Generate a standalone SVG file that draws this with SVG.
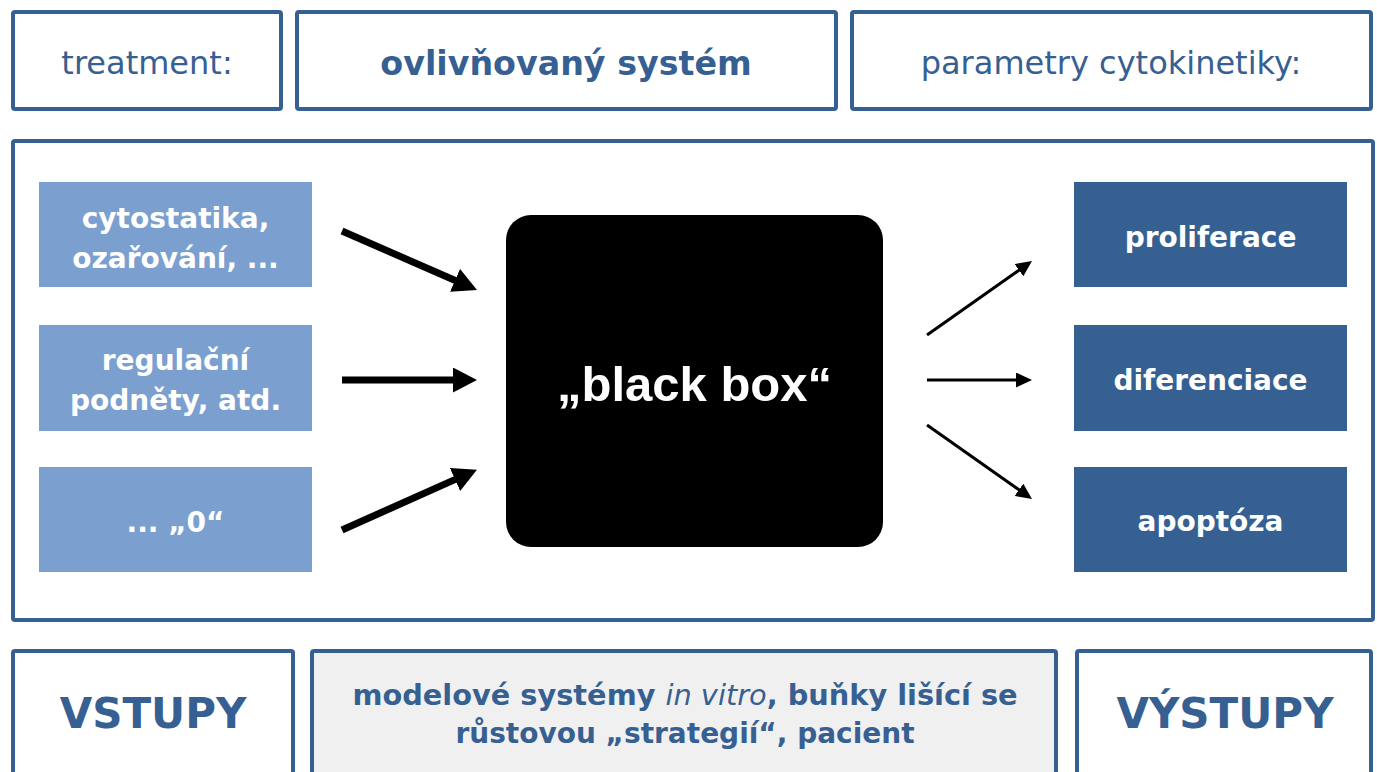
<svg xmlns="http://www.w3.org/2000/svg" width="1377" height="772" viewBox="0 0 1377 772">
<style>
.frame{fill:#ffffff;stroke:#376092;stroke-width:4}
.grey{fill:#f0f0f0;stroke:#376092;stroke-width:4}
.inbox{fill:#7ba0cf}
.outbox{fill:#366092}
.t{font-family:"DejaVu Sans",Verdana,sans-serif;text-anchor:middle}
.hdr{font-size:32px;fill:#376092}
.b{font-weight:bold}
.w{fill:#ffffff;font-size:28px;font-weight:bold}
.big{font-size:42px;font-weight:bold;fill:#376092}
.mid{font-size:28px;fill:#376092}
.thick{stroke:#000;stroke-width:7;fill:none;marker-end:url(#bigHead)}
.thin{stroke:#000;stroke-width:3;fill:none;marker-end:url(#smallHead)}
</style>
<defs>
<marker id="bigHead" markerUnits="userSpaceOnUse" markerWidth="24" markerHeight="25" refX="4" refY="12.5" orient="auto">
<path d="M0,0 L24,12.5 L0,25 z" fill="#000"/>
</marker>
<marker id="smallHead" markerUnits="userSpaceOnUse" markerWidth="16" markerHeight="15" refX="3" refY="7.5" orient="auto">
<path d="M0,0 L16,7.5 L0,15 z" fill="#000"/>
</marker>
</defs>
<rect width="1377" height="772" fill="#ffffff"/>

<g id="treatment">
<rect class="frame" x="13" y="12" width="268" height="97" rx="2"/>
<text class="t hdr" x="147" y="74">treatment:</text>
</g>
<g id="ovlivnovany">
<rect class="frame" x="297" y="12" width="539" height="97" rx="2"/>
<text class="t hdr b" x="566" y="75" style="font-size:33.3px">ovlivňovaný systém</text>
</g>
<g id="parametry">
<rect class="frame" x="852" y="12" width="519" height="97" rx="2"/>
<text class="t hdr" x="1111" y="74">parametry cytokinetiky:</text>
</g>

<g id="mainframe">
<rect class="frame" x="13" y="141" width="1360" height="479" rx="2"/>
</g>

<g id="in1">
<rect class="inbox" x="39" y="182" width="273" height="105"/>
<text class="t w" x="175.5" y="228">cytostatika,</text>
<text class="t w" x="175.5" y="268">ozařování, ...</text>
</g>
<g id="in2">
<rect class="inbox" x="39" y="325" width="273" height="106"/>
<text class="t w" x="175.5" y="370">regulační</text>
<text class="t w" x="175.5" y="410">podněty, atd.</text>
</g>
<g id="in3">
<rect class="inbox" x="39" y="467" width="273" height="105"/>
<text class="t w" x="175.5" y="532">... „0“</text>
</g>

<g id="blackbox">
<rect x="506" y="215" width="377" height="332" rx="25" fill="#000"/>
<text x="694.5" y="401" font-family="'Liberation Sans',Arial,sans-serif" font-size="49" font-weight="bold" fill="#fff" text-anchor="middle">„black box“</text>
</g>

<g id="out1">
<rect class="outbox" x="1074" y="182" width="273" height="105"/>
<text class="t w" x="1210.5" y="247">proliferace</text>
</g>
<g id="out2">
<rect class="outbox" x="1074" y="325" width="273" height="106"/>
<text class="t w" x="1210.5" y="390">diferenciace</text>
</g>
<g id="out3">
<rect class="outbox" x="1074" y="467" width="273" height="105"/>
<text class="t w" x="1210.5" y="531">apoptóza</text>
</g>

<g id="connectors">
<line class="thick" x1="342" y1="231" x2="458.7" y2="282"/>
<line class="thick" x1="342" y1="380" x2="457" y2="380"/>
<line class="thick" x1="342" y1="530" x2="458.7" y2="477.9"/>
<line class="thin" x1="927" y1="335" x2="1021.4" y2="268.5"/>
<line class="thin" x1="927" y1="380" x2="1019" y2="380"/>
<line class="thin" x1="927" y1="425" x2="1021.4" y2="491.5"/>
</g>

<g id="vstupy">
<rect class="frame" x="13" y="651" width="280" height="150" rx="2"/>
<text class="t big" x="153" y="728">VSTUPY</text>
</g>
<g id="modelove">
<rect class="grey" x="312" y="651" width="744" height="150" rx="2"/>
<text class="t mid" x="685" y="705" style="font-size:28.8px"><tspan class="b">modelové systémy </tspan><tspan font-style="italic">in vitro</tspan><tspan class="b">, buňky lišící se</tspan></text>
<text class="t mid b" x="685" y="743">růstovou „strategií“, pacient</text>
</g>
<g id="vystupy">
<rect class="frame" x="1077" y="651" width="294" height="150" rx="2"/>
<text class="t big" x="1225" y="728">VÝSTUPY</text>
</g>
</svg>
